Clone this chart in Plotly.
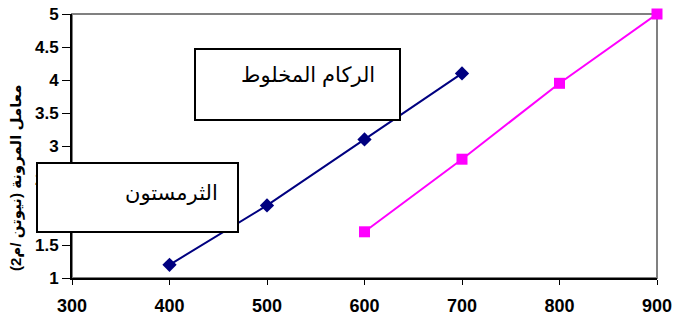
import plotly.graph_objects as go

# Elastic modulus vs. x for two aggregate types
x_mixed = [400, 500, 600, 700]
y_mixed = [1.2, 2.1, 3.1, 4.1]

x_thermo = [600, 700, 800, 900]
y_thermo = [1.7, 2.8, 3.95, 5.0]

x_ticks = [300, 400, 500, 600, 700, 800, 900]
y_ticks = [1, 1.5, 2, 2.5, 3, 3.5, 4, 4.5, 5]

label_mixed = "الركام المخلوط"
label_thermo = "الثرمستون"
y_title = "معامل المرونة (نيوتن /م2)"

W, H = 673, 322
L, R, T, B = 72, 16, 14, 44
pw, ph = W - L - R, H - T - B


def px(xp):
    return (xp - L) / pw


def py(yp):
    return (H - B - yp) / ph


fig = go.Figure()
fig.add_trace(go.Scatter(
    x=x_mixed, y=y_mixed, mode="lines+markers", name=label_mixed,
    line=dict(color="#000080", width=2),
    marker=dict(symbol="diamond", size=11, color="#000080"),
    cliponaxis=False,
))
fig.add_trace(go.Scatter(
    x=x_thermo, y=y_thermo, mode="lines+markers", name=label_thermo,
    line=dict(color="#FF00FF", width=2),
    marker=dict(symbol="square", size=11, color="#FF00FF"),
    cliponaxis=False,
))

fig.update_xaxes(
    range=[300, 900], tickvals=x_ticks, ticktext=[str(v) for v in x_ticks],
    showgrid=False, zeroline=False, showline=True, linecolor="black", linewidth=2,
    ticks="outside", ticklen=5, tickwidth=1, tickcolor="black",
    tickfont=dict(family="Liberation Sans, Arial, sans-serif", size=18,
                  color="black", weight="bold"),
    ticklabelstandoff=5, automargin=False,
)
fig.update_yaxes(
    range=[1, 5], tickvals=y_ticks, ticktext=[f"{v:g}" for v in y_ticks],
    showgrid=False, zeroline=False, showline=True, linecolor="black", linewidth=2,
    ticks="outside", ticklen=8, tickwidth=1, tickcolor="black",
    tickfont=dict(family="Liberation Sans, Arial, sans-serif", size=17,
                  color="black", weight="bold"),
    automargin=False,
)

shapes = [
    # gray frame on the top and right of the plot area
    dict(type="rect", xref="paper", yref="paper", x0=0, x1=1, y0=0, y1=1,
         line=dict(color="#808080", width=2), layer="below"),
    # text boxes
    dict(type="rect", xref="paper", yref="paper",
         x0=px(195), x1=px(400), y0=py(120), y1=py(49),
         line=dict(color="black", width=2), fillcolor="white", layer="above"),
    dict(type="rect", xref="paper", yref="paper",
         x0=px(37), x1=px(238), y0=py(232), y1=py(163),
         line=dict(color="black", width=2), fillcolor="white", layer="above"),
]

box_font = dict(family="Arial, Liberation Sans, DejaVu Sans, sans-serif", size=21, color="black")
annotations = [
    dict(text=label_mixed, xref="paper", yref="paper", x=px(377), y=py(75),
         xanchor="right", yanchor="middle", showarrow=False, font=box_font),
    dict(text=label_thermo, xref="paper", yref="paper", x=px(220), y=py(193),
         xanchor="right", yanchor="middle", showarrow=False, font=box_font),
    dict(text="<b>" + y_title + "</b>", xref="paper", yref="paper", x=px(16), y=py(178),
         xanchor="center", yanchor="middle", textangle=-90, showarrow=False,
         font=dict(family="Arial, Liberation Sans, DejaVu Sans, sans-serif", size=15, color="black")),
]

fig.update_layout(
    width=W, height=H,
    margin=dict(l=L, r=R, t=T, b=B),
    paper_bgcolor="white", plot_bgcolor="white",
    showlegend=False,
    shapes=shapes, annotations=annotations,
)

fig.write_html("out.html")
